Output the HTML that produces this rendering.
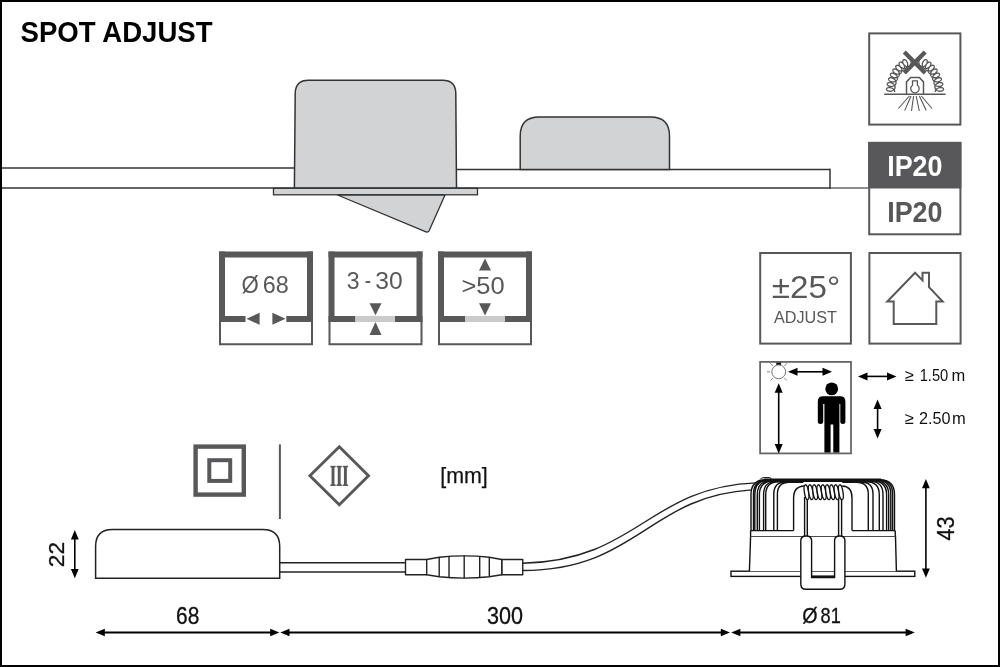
<!DOCTYPE html>
<html><head><meta charset="utf-8"><title>SPOT ADJUST</title>
<style>
html,body{margin:0;padding:0;background:#fff;}
body{width:1000px;height:667px;overflow:hidden;}
svg{display:block;font-family:"Liberation Sans",sans-serif;will-change:transform;}
</style></head><body>
<svg width="1000" height="667" viewBox="0 0 1000 667">
<rect x="0" y="0" width="1000" height="667" fill="#fff"/>
<rect x="1" y="1" width="998" height="665" fill="none" stroke="#000" stroke-width="2"/>
<text x="20.6" y="41.8" font-size="29" font-weight="bold" fill="#000" textLength="192" lengthAdjust="spacingAndGlyphs">SPOT ADJUST</text>
<g stroke="#333" stroke-width="1.5" fill="none"><line x1="2" y1="168" x2="294" y2="168"/><line x1="456" y1="169.5" x2="830" y2="169.5"/><line x1="2" y1="188" x2="830.7" y2="188"/><line x1="830" y1="188" x2="869" y2="188" stroke="#6a6a6a" stroke-width="1.3"/><line x1="830" y1="168.8" x2="830" y2="188.7"/></g>
<path d="M294.4,188 L295.2,93.5 Q295.4,80.3 308.6,80.3 L442.5,80.3 Q455.7,80.3 455.8,93.5 L456.5,188 Z" fill="#d2d3d5" stroke="#333" stroke-width="1.5"/>
<rect x="273.5" y="188.3" width="204" height="6.5" fill="#d2d3d5" stroke="#333" stroke-width="1.3"/>
<path d="M337.5,195 L445,195 L429,231 Q428,232.5 426,231.8 Z" fill="#d2d3d5" stroke="#333" stroke-width="1.3" stroke-linejoin="round"/>
<path d="M520.2,169.5 L520.2,136 Q520.2,117 539.2,117 L650.5,117 Q669.5,117 669.5,136 L669.5,169.5 Z" fill="#d2d3d5" stroke="#333" stroke-width="1.5"/>
<rect x="219" y="251.5" width="94" height="6" fill="#58585a"/>
<rect x="219" y="251.5" width="6" height="70.5" fill="#58585a"/>
<rect x="307" y="251.5" width="6" height="70.5" fill="#58585a"/>
<path d="M220,321 L220,344.2 L312,344.2 L312,321" fill="none" stroke="#58585a" stroke-width="2"/>
<rect x="219" y="316" width="26.5" height="6" fill="#58585a"/>
<rect x="286.3" y="316" width="26.7" height="6" fill="#58585a"/>
<polygon points="246.5,318.8 259.6,312.8 259.6,324.8" fill="#58585a"/>
<polygon points="285.5,318.8 272.4,312.8 272.4,324.8" fill="#58585a"/>
<text x="241.5" y="293" font-size="23" fill="#58585a" textLength="17.3" lengthAdjust="spacingAndGlyphs">Ø</text>
<text x="262.7" y="293" font-size="23" fill="#58585a" textLength="26" lengthAdjust="spacingAndGlyphs">68</text>
<rect x="328.5" y="251.5" width="94" height="6" fill="#58585a"/>
<rect x="328.5" y="251.5" width="6" height="70.5" fill="#58585a"/>
<rect x="416.5" y="251.5" width="6" height="70.5" fill="#58585a"/>
<path d="M329.5,321 L329.5,344.2 L421.5,344.2 L421.5,321" fill="none" stroke="#58585a" stroke-width="2"/>
<rect x="328.5" y="316" width="26.9" height="6" fill="#58585a"/>
<rect x="395.0" y="316" width="27.5" height="6" fill="#58585a"/>
<rect x="355.4" y="316" width="39.6" height="6" fill="#cacbcc"/>
<polygon points="375.5,315.2 369.5,303.2 381.5,303.2" fill="#58585a"/>
<polygon points="375.5,322 369.5,335 381.5,335" fill="#58585a"/>
<text x="346.8" y="288.7" font-size="23" fill="#58585a">3</text>
<text x="364.8" y="287.7" font-size="23" fill="#58585a" textLength="6.3" lengthAdjust="spacingAndGlyphs">-</text>
<text x="375.2" y="288.7" font-size="23" fill="#58585a" textLength="27.4" lengthAdjust="spacingAndGlyphs">30</text>
<rect x="438" y="251.5" width="94" height="6" fill="#58585a"/>
<rect x="438" y="251.5" width="6" height="70.5" fill="#58585a"/>
<rect x="526" y="251.5" width="6" height="70.5" fill="#58585a"/>
<path d="M439,321 L439,344.2 L531,344.2 L531,321" fill="none" stroke="#58585a" stroke-width="2"/>
<rect x="438" y="316" width="27" height="6" fill="#58585a"/>
<rect x="504.7" y="316" width="27.3" height="6" fill="#58585a"/>
<rect x="465" y="316" width="39.7" height="6" fill="#cacbcc"/>
<polygon points="485,258.4 479,270.4 491,270.4" fill="#58585a"/>
<polygon points="485,315.4 479,303.2 491,303.2" fill="#58585a"/>
<text x="461.5" y="294.1" font-size="23" fill="#58585a" textLength="43.2" lengthAdjust="spacingAndGlyphs">&gt;50</text>
<rect x="869.2" y="33.4" width="91.19999999999993" height="91.19999999999999" fill="none" stroke="#58585a" stroke-width="2"/>
<g stroke="#58585a" fill="none">
<line x1="884.2" y1="94.3" x2="945.6" y2="94.3" stroke-width="1.6"/>
<path d="M906.5,94.3 L906.5,81.9 L910.7,77.5 L919.3,77.5 L923.5,81.9 L923.5,94.3" stroke-width="1.5"/>
<path d="M912.5,80.8 L917.4,80.8 L917.4,85.2 A4.2,4.2 0 1 1 912.5,85.2 Z" stroke-width="1.3"/>
<line x1="909.4" y1="96.0" x2="898.4" y2="108.5" stroke-width="1.1"/>
<line x1="911.0" y1="96.0" x2="904.7" y2="110.6" stroke-width="1.1"/>
<line x1="913.6" y1="96.0" x2="911.5" y2="111.0" stroke-width="1.1"/>
<line x1="916.2" y1="96.0" x2="919.3" y2="111.0" stroke-width="1.1"/>
<line x1="919.4" y1="96.0" x2="926.2" y2="110.6" stroke-width="1.1"/>
<line x1="921.4" y1="96.0" x2="932.0" y2="108.5" stroke-width="1.1"/>
<path d="M894.71,92.00 L894.69,91.50 L894.60,91.01 L894.43,90.54 L894.20,90.08 L893.90,89.64 L893.55,89.23 L893.14,88.86 L892.69,88.53 L892.20,88.23 L891.68,87.99 L891.15,87.79 L890.60,87.64 L890.06,87.55 L889.52,87.50 L889.00,87.51 L888.51,87.56 L888.06,87.65 L887.65,87.79 L887.29,87.97 L886.99,88.18 L886.76,88.42 L886.59,88.68 L886.49,88.95 L886.46,89.24 L886.51,89.53 L886.63,89.81 L886.82,90.09 L887.07,90.35 L887.39,90.58 L887.77,90.79 L888.20,90.96 L888.67,91.10 L889.18,91.19 L889.71,91.24 L890.26,91.24 L890.83,91.19 L891.39,91.09 L891.94,90.94 L892.47,90.74 L892.97,90.49 L893.44,90.20 L893.86,89.86 L894.23,89.48 L894.54,89.07 L894.79,88.63 L894.97,88.17 L895.08,87.69 L895.12,87.19 L895.08,86.70 L894.98,86.21 L894.81,85.72 L894.57,85.25 L894.27,84.81 L893.91,84.39 L893.50,84.00 L893.05,83.66 L892.57,83.35 L892.06,83.09 L891.54,82.88 L891.01,82.71 L890.48,82.60 L889.97,82.54 L889.47,82.54 L889.01,82.58 L888.58,82.67 L888.20,82.80 L887.88,82.97 L887.61,83.18 L887.41,83.41 L887.27,83.68 L887.21,83.96 L887.22,84.25 L887.30,84.55 L887.45,84.84 L887.67,85.13 L887.95,85.41 L888.30,85.66 L888.70,85.89 L889.15,86.08 L889.64,86.24 L890.16,86.35 L890.71,86.42 L891.27,86.45 L891.84,86.42 L892.41,86.34 L892.96,86.21 L893.49,86.02 L893.99,85.79 L894.45,85.51 L894.86,85.18 L895.22,84.81 L895.52,84.41 L895.76,83.97 L895.93,83.51 L896.03,83.03 L896.06,82.54 L896.02,82.04 L895.91,81.54 L895.73,81.05 L895.49,80.57 L895.19,80.11 L894.84,79.68 L894.43,79.28 L893.99,78.92 L893.52,78.60 L893.03,78.33 L892.52,78.10 L892.01,77.92 L891.51,77.80 L891.02,77.73 L890.55,77.72 L890.11,77.75 L889.72,77.83 L889.37,77.96 L889.08,78.14 L888.84,78.35 L888.67,78.59 L888.57,78.86 L888.54,79.15 L888.57,79.46 L888.68,79.77 L888.86,80.09 L889.11,80.40 L889.41,80.69 L889.78,80.97 L890.20,81.22 L890.66,81.44 L891.16,81.63 L891.70,81.77 L892.25,81.86 L892.82,81.91 L893.39,81.91 L893.95,81.85 L894.50,81.74 L895.02,81.57 L895.51,81.36 L895.97,81.09 L896.37,80.77 L896.72,80.42 L897.02,80.02 L897.25,79.59 L897.41,79.13 L897.50,78.65 L897.53,78.15 L897.48,77.64 L897.37,77.14 L897.19,76.63 L896.95,76.14 L896.66,75.67 L896.31,75.23 L895.92,74.81 L895.50,74.44 L895.04,74.10 L894.57,73.81 L894.08,73.57 L893.60,73.39 L893.12,73.26 L892.65,73.18 L892.22,73.16 L891.81,73.19 L891.45,73.27 L891.13,73.41 L890.87,73.58 L890.66,73.80 L890.52,74.06 L890.44,74.34 L890.44,74.65 L890.50,74.98 L890.63,75.32 L890.83,75.66 L891.09,75.99 L891.41,76.32 L891.79,76.63 L892.22,76.91 L892.69,77.16 L893.19,77.37 L893.73,77.54 L894.28,77.67 L894.84,77.74 L895.41,77.77 L895.96,77.73 L896.51,77.65 L897.02,77.50 L897.50,77.30 L897.95,77.05 L898.34,76.75 L898.69,76.40 L898.97,76.01 L899.20,75.58 L899.36,75.12 L899.45,74.63 L899.47,74.13 L899.43,73.62 L899.32,73.10 L899.16,72.58 L898.93,72.08 L898.65,71.59 L898.32,71.13 L897.95,70.70 L897.54,70.31 L897.11,69.96 L896.66,69.66 L896.20,69.41 L895.74,69.22 L895.29,69.08 L894.86,68.99 L894.45,68.97 L894.07,69.00 L893.74,69.09 L893.45,69.23 L893.21,69.42 L893.03,69.65 L892.91,69.93 L892.86,70.23 L892.87,70.56 L892.95,70.92 L893.09,71.28 L893.30,71.65 L893.57,72.02 L893.89,72.38 L894.27,72.72 L894.70,73.04 L895.17,73.33 L895.67,73.58 L896.19,73.78 L896.74,73.94 L897.29,74.05 L897.84,74.10 L898.39,74.09 L898.92,74.03 L899.42,73.91 L899.90,73.73 L900.33,73.49 L900.72,73.20 L901.06,72.86 L901.34,72.47 L901.57,72.04 L901.73,71.58 L901.82,71.09 L901.86,70.58 L901.83,70.06 L901.73,69.53 L901.58,69.00 L901.37,68.48 L901.11,67.98 L900.81,67.50 L900.47,67.06 L900.09,66.65 L899.69,66.29 L899.27,65.98 L898.84,65.72 L898.42,65.51 L898.00,65.37 L897.59,65.28 L897.21,65.26 L896.86,65.29 L896.55,65.39 L896.29,65.54 L896.07,65.74 L895.91,66.00 L895.80,66.29 L895.76,66.62 L895.78,66.98 L895.86,67.36 L896.01,67.76 L896.21,68.17 L896.47,68.57 L896.79,68.97 L897.16,69.35 L897.57,69.71 L898.02,70.03 L898.51,70.32 L899.02,70.56 L899.54,70.76 L900.08,70.90 L900.62,70.98 L901.15,71.01 L901.66,70.97 L902.16,70.87 L902.62,70.71 L903.05,70.48 L903.43,70.20 L903.77,69.87 L904.06,69.49 L904.29,69.07 L904.46,68.60 L904.57,68.11 L904.62,67.59 L904.61,67.06 L904.55,66.51 L904.42,65.97 L904.24,65.44 L904.02,64.92 L903.75,64.43 L903.44,63.97 L903.10,63.55 L902.73,63.18 L902.35,62.85 L901.96,62.58 L901.57,62.37 L901.18,62.22 L900.81,62.14 L900.45,62.12 L900.13,62.16 L899.84,62.26 L899.58,62.43 L899.38,62.65 L899.22,62.92 L899.12,63.24 L899.08,63.60 L899.09,63.99 L899.16,64.41 L899.29,64.84 L899.48,65.28 L899.73,65.73 L900.02,66.17 L900.37,66.59 L900.75,66.98 L901.18,67.35 L901.64,67.68 L902.12,67.96 L902.62,68.19 L903.13,68.36 L903.65,68.48 L904.16,68.53 L904.66,68.52 L905.14,68.45 L905.60,68.30 L906.02,68.10 L906.41,67.83 L906.75,67.51 L907.05,67.13 L907.30,66.71 L907.49,66.25 L907.63,65.75 L907.71,65.23 L907.73,64.68 L907.70,64.13 L907.61,63.58 L907.48,63.04 L907.29,62.51 L907.07,62.00 L906.80,61.53 L906.51,61.10 L906.19,60.71 L905.85,60.38 L905.49,60.10 L905.13,59.89 L904.78,59.74 L904.43,59.65 L904.10,59.64 L903.79,59.69 L903.51,59.80 L903.27,59.98 L903.07,60.22 L902.91,60.51 L902.79,60.86 L902.73,61.24 L902.73,61.67 L902.78,62.11 L902.88,62.58 L903.03,63.06 L903.24,63.55 L903.50,64.02 L903.81,64.48 L904.16,64.92 L904.54,65.33 L904.96,65.69 L905.41,66.01 L905.88,66.28 L906.36,66.49 L906.85,66.64 L907.34,66.72 L907.83,66.73 L908.30,66.68 L908.75,66.56 L909.18,66.37 L909.57,66.12 L909.93,65.81 L910.25,65.44 L910.52,65.03 L910.74,64.57 L910.92,64.07 L911.04,63.55 L911.11,63.00 L911.12,62.44 L911.09,61.88 L911.01,61.33 L910.88,60.80 L910.70,60.28 L910.49,59.80 L910.24,59.36 L909.97,58.97 L909.67,58.63 L909.36,58.35 L909.04,58.14 L908.71,57.99 L908.38,57.91 L908.07,57.90 L907.77,57.96" stroke-width="1.3"/>
<path d="M935.29,92.00 L935.31,91.50 L935.40,91.01 L935.57,90.54 L935.80,90.08 L936.10,89.64 L936.45,89.23 L936.86,88.86 L937.31,88.53 L937.80,88.23 L938.32,87.99 L938.85,87.79 L939.40,87.64 L939.94,87.55 L940.48,87.50 L941.00,87.51 L941.49,87.56 L941.94,87.65 L942.35,87.79 L942.71,87.97 L943.01,88.18 L943.24,88.42 L943.41,88.68 L943.51,88.95 L943.54,89.24 L943.49,89.53 L943.37,89.81 L943.18,90.09 L942.93,90.35 L942.61,90.58 L942.23,90.79 L941.80,90.96 L941.33,91.10 L940.82,91.19 L940.29,91.24 L939.74,91.24 L939.17,91.19 L938.61,91.09 L938.06,90.94 L937.53,90.74 L937.03,90.49 L936.56,90.20 L936.14,89.86 L935.77,89.48 L935.46,89.07 L935.21,88.63 L935.03,88.17 L934.92,87.69 L934.88,87.19 L934.92,86.70 L935.02,86.21 L935.19,85.72 L935.43,85.25 L935.73,84.81 L936.09,84.39 L936.50,84.00 L936.95,83.66 L937.43,83.35 L937.94,83.09 L938.46,82.88 L938.99,82.71 L939.52,82.60 L940.03,82.54 L940.53,82.54 L940.99,82.58 L941.42,82.67 L941.80,82.80 L942.12,82.97 L942.39,83.18 L942.59,83.41 L942.73,83.68 L942.79,83.96 L942.78,84.25 L942.70,84.55 L942.55,84.84 L942.33,85.13 L942.05,85.41 L941.70,85.66 L941.30,85.89 L940.85,86.08 L940.36,86.24 L939.84,86.35 L939.29,86.42 L938.73,86.45 L938.16,86.42 L937.59,86.34 L937.04,86.21 L936.51,86.02 L936.01,85.79 L935.55,85.51 L935.14,85.18 L934.78,84.81 L934.48,84.41 L934.24,83.97 L934.07,83.51 L933.97,83.03 L933.94,82.54 L933.98,82.04 L934.09,81.54 L934.27,81.05 L934.51,80.57 L934.81,80.11 L935.16,79.68 L935.57,79.28 L936.01,78.92 L936.48,78.60 L936.97,78.33 L937.48,78.10 L937.99,77.92 L938.49,77.80 L938.98,77.73 L939.45,77.72 L939.89,77.75 L940.28,77.83 L940.63,77.96 L940.92,78.14 L941.16,78.35 L941.33,78.59 L941.43,78.86 L941.46,79.15 L941.43,79.46 L941.32,79.77 L941.14,80.09 L940.89,80.40 L940.59,80.69 L940.22,80.97 L939.80,81.22 L939.34,81.44 L938.84,81.63 L938.30,81.77 L937.75,81.86 L937.18,81.91 L936.61,81.91 L936.05,81.85 L935.50,81.74 L934.98,81.57 L934.49,81.36 L934.03,81.09 L933.63,80.77 L933.28,80.42 L932.98,80.02 L932.75,79.59 L932.59,79.13 L932.50,78.65 L932.47,78.15 L932.52,77.64 L932.63,77.14 L932.81,76.63 L933.05,76.14 L933.34,75.67 L933.69,75.23 L934.08,74.81 L934.50,74.44 L934.96,74.10 L935.43,73.81 L935.92,73.57 L936.40,73.39 L936.88,73.26 L937.35,73.18 L937.78,73.16 L938.19,73.19 L938.55,73.27 L938.87,73.41 L939.13,73.58 L939.34,73.80 L939.48,74.06 L939.56,74.34 L939.56,74.65 L939.50,74.98 L939.37,75.32 L939.17,75.66 L938.91,75.99 L938.59,76.32 L938.21,76.63 L937.78,76.91 L937.31,77.16 L936.81,77.37 L936.27,77.54 L935.72,77.67 L935.16,77.74 L934.59,77.77 L934.04,77.73 L933.49,77.65 L932.98,77.50 L932.50,77.30 L932.05,77.05 L931.66,76.75 L931.31,76.40 L931.03,76.01 L930.80,75.58 L930.64,75.12 L930.55,74.63 L930.53,74.13 L930.57,73.62 L930.68,73.10 L930.84,72.58 L931.07,72.08 L931.35,71.59 L931.68,71.13 L932.05,70.70 L932.46,70.31 L932.89,69.96 L933.34,69.66 L933.80,69.41 L934.26,69.22 L934.71,69.08 L935.14,68.99 L935.55,68.97 L935.93,69.00 L936.26,69.09 L936.55,69.23 L936.79,69.42 L936.97,69.65 L937.09,69.93 L937.14,70.23 L937.13,70.56 L937.05,70.92 L936.91,71.28 L936.70,71.65 L936.43,72.02 L936.11,72.38 L935.73,72.72 L935.30,73.04 L934.83,73.33 L934.33,73.58 L933.81,73.78 L933.26,73.94 L932.71,74.05 L932.16,74.10 L931.61,74.09 L931.08,74.03 L930.58,73.91 L930.10,73.73 L929.67,73.49 L929.28,73.20 L928.94,72.86 L928.66,72.47 L928.43,72.04 L928.27,71.58 L928.18,71.09 L928.14,70.58 L928.17,70.06 L928.27,69.53 L928.42,69.00 L928.63,68.48 L928.89,67.98 L929.19,67.50 L929.53,67.06 L929.91,66.65 L930.31,66.29 L930.73,65.98 L931.16,65.72 L931.58,65.51 L932.00,65.37 L932.41,65.28 L932.79,65.26 L933.14,65.29 L933.45,65.39 L933.71,65.54 L933.93,65.74 L934.09,66.00 L934.20,66.29 L934.24,66.62 L934.22,66.98 L934.14,67.36 L933.99,67.76 L933.79,68.17 L933.53,68.57 L933.21,68.97 L932.84,69.35 L932.43,69.71 L931.98,70.03 L931.49,70.32 L930.98,70.56 L930.46,70.76 L929.92,70.90 L929.38,70.98 L928.85,71.01 L928.34,70.97 L927.84,70.87 L927.38,70.71 L926.95,70.48 L926.57,70.20 L926.23,69.87 L925.94,69.49 L925.71,69.07 L925.54,68.60 L925.43,68.11 L925.38,67.59 L925.39,67.06 L925.45,66.51 L925.58,65.97 L925.76,65.44 L925.98,64.92 L926.25,64.43 L926.56,63.97 L926.90,63.55 L927.27,63.18 L927.65,62.85 L928.04,62.58 L928.43,62.37 L928.82,62.22 L929.19,62.14 L929.55,62.12 L929.87,62.16 L930.16,62.26 L930.42,62.43 L930.62,62.65 L930.78,62.92 L930.88,63.24 L930.92,63.60 L930.91,63.99 L930.84,64.41 L930.71,64.84 L930.52,65.28 L930.27,65.73 L929.98,66.17 L929.63,66.59 L929.25,66.98 L928.82,67.35 L928.36,67.68 L927.88,67.96 L927.38,68.19 L926.87,68.36 L926.35,68.48 L925.84,68.53 L925.34,68.52 L924.86,68.45 L924.40,68.30 L923.98,68.10 L923.59,67.83 L923.25,67.51 L922.95,67.13 L922.70,66.71 L922.51,66.25 L922.37,65.75 L922.29,65.23 L922.27,64.68 L922.30,64.13 L922.39,63.58 L922.52,63.04 L922.71,62.51 L922.93,62.00 L923.20,61.53 L923.49,61.10 L923.81,60.71 L924.15,60.38 L924.51,60.10 L924.87,59.89 L925.22,59.74 L925.57,59.65 L925.90,59.64 L926.21,59.69 L926.49,59.80 L926.73,59.98 L926.93,60.22 L927.09,60.51 L927.21,60.86 L927.27,61.24 L927.27,61.67 L927.22,62.11 L927.12,62.58 L926.97,63.06 L926.76,63.55 L926.50,64.02 L926.19,64.48 L925.84,64.92 L925.46,65.33 L925.04,65.69 L924.59,66.01 L924.12,66.28 L923.64,66.49 L923.15,66.64 L922.66,66.72 L922.17,66.73 L921.70,66.68 L921.25,66.56 L920.82,66.37 L920.43,66.12 L920.07,65.81 L919.75,65.44 L919.48,65.03 L919.26,64.57 L919.08,64.07 L918.96,63.55 L918.89,63.00 L918.88,62.44 L918.91,61.88 L918.99,61.33 L919.12,60.80 L919.30,60.28 L919.51,59.80 L919.76,59.36 L920.03,58.97 L920.33,58.63 L920.64,58.35 L920.96,58.14 L921.29,57.99 L921.62,57.91 L921.93,57.90 L922.23,57.96" stroke-width="1.3"/>
</g>
<g stroke="#58585a" stroke-width="4.3" stroke-linecap="butt"><line x1="904.3" y1="52" x2="925.2" y2="72.9"/><line x1="925.2" y1="52" x2="904.3" y2="72.9"/></g>
<rect x="868.2" y="141.9" width="93.2" height="46.6" fill="#58585a"/>
<rect x="869.2" y="142.9" width="91.19999999999993" height="91.4" fill="none" stroke="#58585a" stroke-width="2"/>
<text x="887.2" y="175.9" font-size="29.5" font-weight="bold" fill="#fff" textLength="55.3" lengthAdjust="spacingAndGlyphs">IP20</text>
<text x="887.2" y="221.6" font-size="29.5" font-weight="bold" fill="#58585a" textLength="55.3" lengthAdjust="spacingAndGlyphs">IP20</text>
<rect x="760.2" y="253.0" width="90.69999999999993" height="90.60000000000002" fill="none" stroke="#58585a" stroke-width="2"/>
<text x="771.8" y="297.5" font-size="32" fill="#58585a" textLength="68.4" lengthAdjust="spacingAndGlyphs">±25°</text>
<text x="774" y="322.8" font-size="16" fill="#58585a" textLength="63" lengthAdjust="spacingAndGlyphs">ADJUST</text>
<rect x="869.4" y="253.0" width="91.20000000000005" height="90.60000000000002" fill="none" stroke="#58585a" stroke-width="2"/>
<path d="M893.7,324 L893.7,301.6 L887.3,301.6 L915.1,272.8 L922.5,280.4 L922.5,272.8 L929,272.8 L929,287.2 L942.7,301.6 L936.3,301.6 L936.3,324 Z" fill="none" stroke="#58585a" stroke-width="2" stroke-linejoin="miter"/>
<rect x="760.1" y="361.9" width="90.89999999999993" height="91.50000000000001" fill="none" stroke="#666" stroke-width="1.8"/>
<rect x="776.3" y="362.6" width="4.8" height="2.4" fill="#111"/>
<circle cx="778.7" cy="371.8" r="6.9" fill="none" stroke="#777" stroke-width="1"/>
<g stroke="#888" stroke-width="1"><line x1="767" y1="371.8" x2="770.2" y2="371.8"/><line x1="770.3" y1="363.2" x2="773" y2="366"/><line x1="787.1" y1="363.2" x2="784.4" y2="366"/><line x1="770.5" y1="380.5" x2="773.2" y2="377.8"/><line x1="786.9" y1="380.5" x2="784.2" y2="377.8"/></g>
<line x1="796.5" y1="371.8" x2="823.5" y2="371.8" stroke="#000" stroke-width="1.6"/><polygon points="788,371.8 797.5,367.8 797.5,375.8" fill="#000"/><polygon points="832,371.8 822.5,367.8 822.5,375.8" fill="#000"/>
<line x1="778.7" y1="391.7" x2="778.7" y2="445.0" stroke="#000" stroke-width="1.6"/><polygon points="778.7,383.2 774.7,392.7 782.7,392.7" fill="#000"/><polygon points="778.7,453.5 774.7,444.0 782.7,444.0" fill="#000"/>
<line x1="866.5" y1="376.4" x2="888.0" y2="376.4" stroke="#000" stroke-width="1.6"/><polygon points="858,376.4 867.5,372.4 867.5,380.4" fill="#000"/><polygon points="896.5,376.4 887.0,372.4 887.0,380.4" fill="#000"/>
<line x1="877.6" y1="407.9" x2="877.6" y2="430.0" stroke="#000" stroke-width="1.6"/><polygon points="877.6,399.4 873.6,408.9 881.6,408.9" fill="#000"/><polygon points="877.6,438.5 873.6,429.0 881.6,429.0" fill="#000"/>
<circle cx="831.7" cy="388.9" r="6.4" fill="#000"/>
<path d="M823,396.3 L840.2,396.3 Q845.4,396.3 845.4,401.5 L845.4,421.5 Q845.4,424 842.9,424 Q840.3,424 840.3,421.5 L840.3,404 L839.4,404 L839.4,452.5 L833.3,452.5 L833.3,424.6 L830.6,424.6 L830.6,452.5 L824.4,452.5 L824.4,404 L823.2,404 L823.2,421.5 Q823.2,424 820.5,424 Q817.8,424 817.8,421.5 L817.8,401.5 Q817.8,396.3 823,396.3 Z" fill="#000"/>
<text x="904.6" y="380.6" font-size="16.5" fill="#111">≥</text>
<text x="919.7" y="380.6" font-size="16.5" fill="#111" textLength="28.6" lengthAdjust="spacingAndGlyphs">1.50</text>
<text x="951.4" y="380.6" font-size="16.5" fill="#111">m</text>
<text x="904.6" y="423.6" font-size="16.5" fill="#111">≥</text>
<text x="919.0" y="423.6" font-size="16.5" fill="#111" textLength="31.5" lengthAdjust="spacingAndGlyphs">2.50</text>
<text x="952.1" y="423.6" font-size="16.5" fill="#111">m</text>
<rect x="195.6" y="446.6" width="48.2" height="48" fill="none" stroke="#58585a" stroke-width="4.4"/>
<rect x="209.3" y="460.2" width="20.9" height="20.7" fill="none" stroke="#58585a" stroke-width="4"/>
<line x1="279.9" y1="444.4" x2="279.9" y2="519" stroke="#58585a" stroke-width="2"/>
<path d="M339.3,446.8 L368.5,475.8 L339.3,504.8 L309.9,475.8 Z" fill="none" stroke="#58585a" stroke-width="2.9"/>
<rect x="331.55" y="466" width="2.9" height="20" fill="#58585a"/>
<rect x="330.35" y="465.8" width="5.3" height="1.6" fill="#58585a"/>
<rect x="330.35" y="484.4" width="5.3" height="1.6" fill="#58585a"/>
<rect x="337.75" y="466" width="2.9" height="20" fill="#58585a"/>
<rect x="336.55" y="465.8" width="5.3" height="1.6" fill="#58585a"/>
<rect x="336.55" y="484.4" width="5.3" height="1.6" fill="#58585a"/>
<rect x="343.95" y="466" width="2.9" height="20" fill="#58585a"/>
<rect x="342.75" y="465.8" width="5.3" height="1.6" fill="#58585a"/>
<rect x="342.75" y="484.4" width="5.3" height="1.6" fill="#58585a"/>
<text x="440.2" y="483.0" font-size="22.5" fill="#111" stroke="#111" stroke-width="0.25" textLength="47.6" lengthAdjust="spacingAndGlyphs">[mm]</text>
<path d="M95.6,578.3 L95.6,546.4 Q95.6,529.4 112.6,529.4 L262.7,529.4 Q279.7,529.4 279.7,546.4 L279.7,578.3 Z" fill="#fff" stroke="#222" stroke-width="1.5"/>
<line x1="74.8" y1="538.4" x2="74.8" y2="569.9" stroke="#000" stroke-width="1.6"/><polygon points="74.8,530 70.89999999999999,539.4 78.7,539.4" fill="#000"/><polygon points="74.8,578.3 70.89999999999999,568.9 78.7,568.9" fill="#000"/>
<text transform="translate(63.5,567.3) rotate(-90)" font-size="22" fill="#111" stroke="#111" stroke-width="0.3" textLength="25.4" lengthAdjust="spacingAndGlyphs">22</text>
<g stroke="#222" stroke-width="1.4" fill="none"><line x1="279.7" y1="562.8" x2="405.5" y2="562.8"/><line x1="279.7" y1="572" x2="405.5" y2="572"/></g>
<g stroke="#222" stroke-width="1.4" fill="#fff" stroke-linejoin="round"><rect x="405.5" y="559.5" width="21.2" height="15.3"/><rect x="501.75" y="559.5" width="21" height="15.3"/><path d="M426.7,559.5 L439.2,557.2 Q464.2,554.5 489.3,557.2 L501.75,559.5 L501.75,574.8 L489.3,576.8 Q464.2,579.5 439.2,576.8 L426.7,574.8 Z"/><line x1="439.2" y1="557.2" x2="439.2" y2="576.8"/><line x1="449" y1="556.4" x2="449" y2="577.6"/><line x1="464.2" y1="555.7" x2="464.2" y2="578.3"/><line x1="479.7" y1="556.2" x2="479.7" y2="577.8"/><line x1="489.3" y1="557.2" x2="489.3" y2="576.8"/></g>
<g stroke="#222" stroke-width="1.4" fill="none"><path d="M522.75,563.3 C639.25,560.07 647.48,487.22 756.4,482.9"/><path d="M522.75,570.5 C637.68,570.09 648.07,496.32 751.7,489.9"/></g>
<g stroke="#111" stroke-width="1.4" fill="none">
<rect x="731" y="571.2" width="183.8" height="5.2" fill="#fff"/>
<path d="M749.4,571.2 L750.6,530.6 L895.5,530.6 L896.4,571.2" fill="#fff" stroke="none"/>
<path d="M749.4,571.2 L750.6,536.2 L895.5,536.2 L896.4,571.2"/>
<path d="M750.6,536.2 L751,494 Q751,479.4 766,479.4 L880,479.4 Q894.5,479.4 894.5,494 L895.5,536.2 Z" fill="#fff" stroke="none"/>
<path d="M751.0,530.6 L751.0,494.6 Q751.0,479.6 766.0,479.6 L780.0,479.6"/>
<path d="M753.5,530.6 L753.5,494.0 Q753.5,480.0 767.5,480.0 L781.5,480.0"/>
<path d="M754.8,530.6 L754.8,494.3 Q754.8,480.3 768.8,480.3 L782.8,480.3"/>
<path d="M757.3,530.6 L757.3,494.7 Q757.3,480.7 771.3,480.7 L785.3,480.7"/>
<path d="M759.4,530.6 L759.4,495.0 Q759.4,481.0 773.4,481.0 L787.4,481.0"/>
<path d="M763.6,530.6 L763.6,494.4 Q763.6,481.4 776.6,481.4 L790.6,481.4"/>
<path d="M765.7,530.6 L765.7,494.7 Q765.7,481.7 778.7,481.7 L792.7,481.7"/>
<path d="M773.8,530.6 L773.8,494.0 Q773.8,482.0 785.8,482.0 L799.8,482.0"/>
<path d="M777.4,530.6 L777.4,494.3 Q777.4,482.3 789.4,482.3 L803.4,482.3"/>
<path d="M894.5,530.6 L894.5,494.6 Q894.5,479.6 879.5,479.6 L865.5,479.6"/>
<path d="M892.6,530.6 L892.6,494.0 Q892.6,480.0 878.6,480.0 L864.6,480.0"/>
<path d="M890.8,530.6 L890.8,494.3 Q890.8,480.3 876.8,480.3 L862.8,480.3"/>
<path d="M888.7,530.6 L888.7,494.7 Q888.7,480.7 874.7,480.7 L860.7,480.7"/>
<path d="M886.6,530.6 L886.6,495.0 Q886.6,481.0 872.6,481.0 L858.6,481.0"/>
<path d="M883.0,530.6 L883.0,494.4 Q883.0,481.4 870.0,481.4 L856.0,481.4"/>
<path d="M879.3,530.6 L879.3,494.7 Q879.3,481.7 866.3,481.7 L852.3,481.7"/>
<path d="M873.0,530.6 L873.0,494.0 Q873.0,482.0 861.0,482.0 L847.0,482.0"/>
<path d="M868.3,530.6 L868.3,494.3 Q868.3,482.3 856.3,482.3 L842.3,482.3"/>
<path d="M764,480.3 L881,480.3" stroke-width="3.6"/>
<path d="M760,479.6 Q761,477.6 764,477.6 L769.5,477.6 Q771.5,477.6 771,479.6" stroke-width="1"/>
<path d="M750.6,530.6 L793.6,530.6 M852,530.6 L895,530.6"/>
<path d="M750.6,530.6 L750.6,536.2 M895.2,530.6 L895.3,536.2"/>
<path d="M793.6,530.6 L793.6,498 Q793.6,486.3 804.4,486"/>
<path d="M852,530.6 L852,498 Q852,486.3 842.2,486"/>
<line x1="804.6" y1="497" x2="804.6" y2="537"/><line x1="807.3" y1="497" x2="807.3" y2="537"/>
<line x1="838.6" y1="497" x2="838.6" y2="537"/><line x1="841.6" y1="497" x2="841.6" y2="537"/>
<ellipse cx="806.5" cy="492.2" rx="2.1" ry="7.5" transform="rotate(-9 806.5 492.2)" stroke-width="1.35" fill="#fff"/>
<ellipse cx="810.8" cy="492.2" rx="2.1" ry="7.5" transform="rotate(-9 810.8 492.2)" stroke-width="1.35" fill="#fff"/>
<ellipse cx="815.1" cy="492.2" rx="2.1" ry="7.5" transform="rotate(-9 815.1 492.2)" stroke-width="1.35" fill="#fff"/>
<ellipse cx="819.4" cy="492.2" rx="2.1" ry="7.5" transform="rotate(-9 819.4 492.2)" stroke-width="1.35" fill="#fff"/>
<ellipse cx="823.7" cy="492.2" rx="2.1" ry="7.5" transform="rotate(-9 823.7 492.2)" stroke-width="1.35" fill="#fff"/>
<ellipse cx="828.0" cy="492.2" rx="2.1" ry="7.5" transform="rotate(-9 828.0 492.2)" stroke-width="1.35" fill="#fff"/>
<ellipse cx="832.3" cy="492.2" rx="2.1" ry="7.5" transform="rotate(-9 832.3 492.2)" stroke-width="1.35" fill="#fff"/>
<ellipse cx="836.6" cy="492.2" rx="2.1" ry="7.5" transform="rotate(-9 836.6 492.2)" stroke-width="1.35" fill="#fff"/>
<ellipse cx="840.9" cy="492.2" rx="2.1" ry="7.5" transform="rotate(-9 840.9 492.2)" stroke-width="1.35" fill="#fff"/>
<path d="M800.8,540.5 Q800.8,536 806.2,536 Q811.6,536 811.6,540.5 L811.6,577.6 L834.6,577.6 L834.6,540.5 Q834.6,536 839.75,536 Q844.9,536 844.9,540.5 L844.9,584 Q844.9,589.3 839.6,589.3 L806,589.3 Q800.8,589.3 800.8,584 Z" fill="#fff"/>
<rect x="811.6" y="575.6" width="23" height="2" fill="#111" stroke="none"/>
</g>
<line x1="925.9" y1="487.29999999999995" x2="925.9" y2="569.4" stroke="#000" stroke-width="1.6"/><polygon points="925.9,478.9 922.0,488.29999999999995 929.8,488.29999999999995" fill="#000"/><polygon points="925.9,577.8 922.0,568.4 929.8,568.4" fill="#000"/>
<text transform="translate(954,540.6) rotate(-90)" font-size="23" fill="#111" stroke="#111" stroke-width="0.3" textLength="24" lengthAdjust="spacingAndGlyphs">43</text>
<line x1="103.8" y1="632.5" x2="271.2" y2="632.5" stroke="#000" stroke-width="1.9"/><polygon points="95.6,632.5 104.8,628.8 104.8,636.2" fill="#000"/><polygon points="279.4,632.5 270.2,628.8 270.2,636.2" fill="#000"/>
<line x1="288.5" y1="632.5" x2="721.8" y2="632.5" stroke="#000" stroke-width="1.9"/><polygon points="280.3,632.5 289.5,628.8 289.5,636.2" fill="#000"/><polygon points="730,632.5 720.8,628.8 720.8,636.2" fill="#000"/>
<line x1="739.4000000000001" y1="632.5" x2="906.5999999999999" y2="632.5" stroke="#000" stroke-width="1.9"/><polygon points="731.2,632.5 740.4000000000001,628.8 740.4000000000001,636.2" fill="#000"/><polygon points="914.8,632.5 905.5999999999999,628.8 905.5999999999999,636.2" fill="#000"/>
<text x="176" y="624.2" font-size="23" fill="#111" stroke="#111" stroke-width="0.3" textLength="23.3" lengthAdjust="spacingAndGlyphs">68</text>
<text x="487.1" y="624.0" font-size="23" fill="#111" stroke="#111" stroke-width="0.3" textLength="36" lengthAdjust="spacingAndGlyphs">300</text>
<text x="802.2" y="623.3" font-size="21.5" fill="#111" stroke="#111" stroke-width="0.3" textLength="15.3" lengthAdjust="spacingAndGlyphs">Ø</text>
<text x="820.6" y="623.3" font-size="21.5" fill="#111" stroke="#111" stroke-width="0.3" textLength="20.2" lengthAdjust="spacingAndGlyphs">81</text>
</svg>
</body></html>
